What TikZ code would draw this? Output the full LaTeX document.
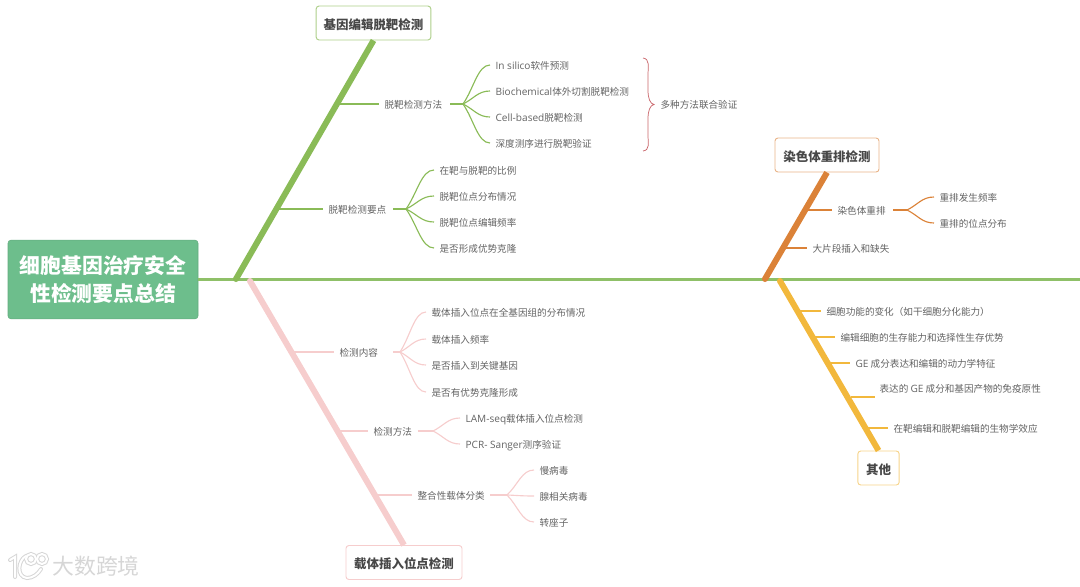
\documentclass[tikz,border=0pt]{standalone}
\usepackage{fontspec}
\setmainfont{Noto Sans CJK SC}
\newfontfamily\lat[Scale=1.05]{Open Sans}
\usetikzlibrary{calc}
\definecolor{cgreen}{HTML}{8ABB57}
\definecolor{cspine}{HTML}{8FC068}
\definecolor{croot}{HTML}{6DBE8C}
\definecolor{cpink}{HTML}{F6CDCD}
\definecolor{corange}{HTML}{DB8238}
\definecolor{cyellow}{HTML}{F2B83C}
\definecolor{cbrace}{HTML}{C9656A}
\definecolor{ctext}{HTML}{636363}
\definecolor{cwm}{HTML}{D6D6D6}
\tikzset{
  x=0.75pt,y=-0.75pt,
  rootbox/.style={fill=croot,draw=croot!90!black,rounded corners=2.2pt,text=white,font=\fontsize{15.6}{21.7}\selectfont\bfseries,align=center,minimum width=142.5pt,minimum height=59pt,inner sep=0pt},
  topic/.style={draw=#1,fill=white,rounded corners=2.2pt,line width=0.7pt,text=black!72,font=\fontsize{9.35}{11}\selectfont\bfseries,minimum height=25.5pt,inner sep=0pt,text height=9.5pt,text depth=0.5pt},
  lab/.style={text=ctext,font=\fontsize{7.2}{9}\selectfont,inner xsep=4pt,inner ysep=0pt,text height=8pt,text depth=1.5pt,anchor=west},
  trunk/.style={draw=#1,line width=4.5pt,line cap=butt},
  basedot/.style={fill=#1,draw=none},
  twig/.style={draw=#1,line width=0.85pt},
}
\newcommand{\leafline}[3]{\draw[twig=#3] (#1) .. controls ($(#1)!0.4!(#2.west)$) and ($(#1 |- #2.west)!0.55!(#2.west)$) .. (#2.west);}
\begin{document}
\begin{tikzpicture}
\useasboundingbox (0,0) rectangle (1080,586);
% root and topics
\node[rootbox] (root) at (103,279.5) {细胞基因治疗安全\\性检测要点总结};
\coordinate (spineend) at (1080,279.5);
\draw[cspine,line width=1.6pt] (root.east) -- (spineend);
\node[topic=cgreen!70,minimum width=86pt] (tg) at (373.5,23) {基因编辑脱靶检测};
\node[topic=cpink,minimum width=87pt] (tp) at (404,562.5) {载体插入位点检测};
\node[topic=corange!60,minimum width=78pt] (to) at (827,155) {染色体重排检测};
\node[topic=cyellow!60,minimum width=31pt] (ty) at (878.5,468) {其他};
\coordinate (bg) at (236,279);
\coordinate (bp) at (250,281);
\coordinate (bo) at (765,279);
\coordinate (by) at (780,281);
\draw[trunk=cpink] (bp) -- (tp.north);
\draw[trunk=cyellow] (by) -- (ty.north);
\draw[trunk=cgreen] (bg) -- (tg.south);
\draw[trunk=corange] (bo) -- (to.south);
\fill[basedot=cpink] (bp) circle (3);
\fill[basedot=cyellow] (by) circle (3);
\fill[basedot=cgreen] (bg) circle (3);
\fill[basedot=corange] (bo) circle (3);

% green branch
\coordinate (g1) at (340,104);
\node[lab] (gm) at (379,104) {脱靶检测方法};
\draw[twig=cgreen] (g1) -- (gm.west);
\coordinate (gms) at (450,104);
\coordinate (gmf) at (463,104);
\draw[twig=cgreen] (gms) -- (gmf);
\node[lab] (ga) at (490,65) {{\lat In silico}软件预测};
\node[lab] (gb) at (490,91) {{\lat Biochemical}体外切割脱靶检测};
\node[lab] (gc) at (490,117) {{\lat Cell-based}脱靶检测};
\node[lab] (gd) at (490,143) {深度测序进行脱靶验证};
\leafline{gmf}{ga}{cgreen}\leafline{gmf}{gb}{cgreen}\leafline{gmf}{gc}{cgreen}\leafline{gmf}{gd}{cgreen}
\coordinate (g2) at (279,209);
\node[lab] (gn) at (323,209) {脱靶检测要点};
\draw[twig=cgreen] (g2) -- (gn.west);
\coordinate (gns) at (393,209);
\coordinate (gnf) at (406,209);
\draw[twig=cgreen] (gns) -- (gnf);
\node[lab] (ge) at (434,170) {在靶与脱靶的比例};
\node[lab] (gf) at (434,196) {脱靶位点分布情况};
\node[lab] (gg) at (434,222) {脱靶位点编辑频率};
\node[lab] (gh) at (434,248) {是否形成优势克隆};
\leafline{gnf}{ge}{cgreen}\leafline{gnf}{gf}{cgreen}\leafline{gnf}{gg}{cgreen}\leafline{gnf}{gh}{cgreen}
% brace
\coordinate (bra) at (643,58);
\coordinate (brb) at (643,151);
\coordinate (brt) at (654,104.5);
\draw[cbrace,line width=0.55pt] (bra) .. controls (650,59) and (648,66) .. (648,76) -- (648,90) .. controls (648,98) and (650,104) .. (brt) .. controls (650,105) and (648,111) .. (648,119) -- (648,134) .. controls (648,144) and (650,150) .. (brb);
\node[lab] (gs) at (655,104) {多种方法联合验证};

% orange branch
\coordinate (o1) at (808,210);
\node[lab] (om) at (832,210) {染色体重排};
\draw[twig=corange] (o1) -- (om.west);
\coordinate (oms) at (893,210);
\coordinate (omf) at (907,210);
\draw[twig=corange] (oms) -- (omf);
\node[lab] (oa) at (934,197) {重排发生频率};
\node[lab] (ob) at (934,223) {重排的位点分布};
\leafline{omf}{oa}{corange}\leafline{omf}{ob}{corange}
\coordinate (o2) at (786,248);
\node[lab] (on) at (807,248) {大片段插入和缺失};
\draw[twig=corange] (o2) -- (on.west);

% yellow branch
\coordinate (y1) at (797,311);
\node[lab] (ya) at (821,311) {细胞功能的变化（如干细胞分化能力）};
\draw[twig=cyellow] (y1) -- (ya.west);
\coordinate (y2) at (813,337);
\node[lab] (yb) at (835,337) {编辑细胞的生存能力和选择性生存优势};
\draw[twig=cyellow] (y2) -- (yb.west);
\coordinate (y3) at (829,363);
\node[lab] (yc) at (850,363) {{\lat GE} 成分表达和编辑的动力学特征};
\draw[twig=cyellow] (y3) -- (yc.west);
\coordinate (y4) at (851,397);
\coordinate (y4e) at (875,397);
\draw[twig=cyellow] (y4) -- (y4e);
\node[lab] (yd) at (874,388) {表达的 {\lat GE} 成分和基因产物的免疫原性};
\coordinate (y5) at (868,428);
\node[lab] (ye) at (888,428) {在靶编辑和脱靶编辑的生物学效应};
\draw[twig=cyellow] (y5) -- (ye.west);

% pink branch
\coordinate (p1) at (292,352);
\node[lab] (pm) at (334,352) {检测内容};
\draw[twig=cpink] (p1) -- (pm.west);
\coordinate (pms) at (393,352);
\coordinate (pmf) at (400,352);
\draw[twig=cpink] (pms) -- (pmf);
\node[lab] (pa) at (426,312) {载体插入位点在全基因组的分布情况};
\node[lab] (pb) at (426,339) {载体插入频率};
\node[lab] (pc) at (426,365) {是否插入到关键基因};
\node[lab] (pd) at (426,392) {是否有优势克隆形成};
\leafline{pmf}{pa}{cpink}\leafline{pmf}{pb}{cpink}\leafline{pmf}{pc}{cpink}\leafline{pmf}{pd}{cpink}
\coordinate (p2) at (337,431);
\node[lab] (pn) at (368,431) {检测方法};
\draw[twig=cpink] (p2) -- (pn.west);
\coordinate (pnf) at (433,431);
\draw[twig=cpink] (pn.east) -- (pnf);
\node[lab] (pe) at (460,418) {{\lat LAM-seq}载体插入位点检测};
\node[lab] (pf) at (460,444) {{\lat PCR- Sanger}测序验证};
\leafline{pnf}{pe}{cpink}\leafline{pnf}{pf}{cpink}
\coordinate (p3) at (375,495);
\node[lab] (po) at (412,495) {整合性载体分类};
\draw[twig=cpink] (p3) -- (po.west);
\coordinate (pof) at (507,495);
\draw[twig=cpink] (po.east) -- (pof);
\node[lab] (pg) at (534,470) {慢病毒};
\node[lab] (ph) at (534,496) {腺相关病毒};
\node[lab] (pi) at (534,522) {转座子};
\leafline{pof}{pg}{cpink}\leafline{pof}{ph}{cpink}\leafline{pof}{pi}{cpink}

% watermark
\foreach \c/\w in {cwm/3pt,white/1.5pt}{
  \draw[\c,line width=\w,line cap=round] (10,560) -- (15,557) -- (15,577);
  \draw[\c,line width=\w,line cap=round] (26,556) .. controls (18,560) and (16,577) .. (27,578) .. controls (33,578) and (38,574) .. (41,569);
  \draw[\c,line width=\w] (31,559) circle (5);
  \draw[\c,line width=\w] (42,559) circle (5);
}
\node[text=cwm,font=\fontsize{16.4}{18}\selectfont,inner sep=0pt] (wm) at (96,566) {大数跨境};
\end{tikzpicture}
\end{document}
